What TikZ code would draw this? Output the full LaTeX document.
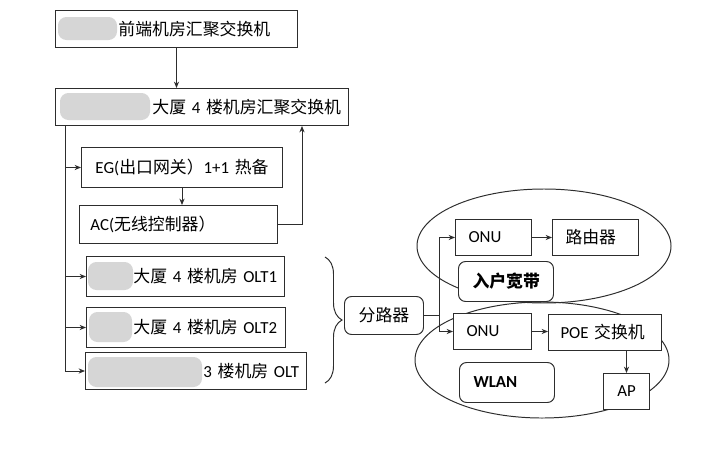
\documentclass[tikz,border=0pt]{standalone}
\usepackage{fontspec}
\setmainfont{Carlito}
\newfontfamily\cjk{Noto Sans CJK SC}
\usepackage{xcolor}
\usetikzlibrary{
  arrows.meta,
  calc,
  positioning,
  decorations.pathreplacing
}
\definecolor{linegray}{RGB}{45,45,45}
\definecolor{blurgray}{RGB}{214,214,214}
\newcommand{\zh}[1]{{\cjk #1}}

\begin{document}
\begin{tikzpicture}[
  x=0.25mm, y=-0.25mm,
  box/.style={draw=linegray, fill=white, line width=0.7pt, anchor=north west,
              inner xsep=0pt, inner ysep=0pt, align=left,
              font=\fontsize{12}{14}\selectfont},
  rbox/.style={box, rounded corners=5pt},
  arr/.style={-{Stealth[length=1.6mm, width=1.3mm]}, line width=0.7pt, linegray},
  wire/.style={line width=0.7pt, linegray},
  blur/.style={fill=blurgray, rounded corners=6pt}
]
  \useasboundingbox (0,0) rectangle (715,451);

  % groups
  \draw[wire] (544,246) ellipse [x radius=31.75mm, y radius=14.25mm];
  \draw[wire] (542,360) ellipse [x radius=31.75mm, y radius=14.5mm];

  \node[box, text width=60.5mm, minimum height=9.25mm] (front) at (55,10)
    {\hspace*{15.75mm}\zh{前端机房汇聚交换机}};
  \node[box, text width=73.25mm, minimum height=9.25mm] (bldg) at (55,88)
    {\hspace*{24.25mm}\zh{大厦} 4 \zh{楼机房汇聚交换机}};
  \node[box, text width=50.25mm, minimum height=10mm] (eg) at (81,147)
    {\hspace*{3.5mm}EG(\zh{出口网关）}1+1 \zh{热备}};
  \node[box, text width=49.5mm, minimum height=9.5mm] (ac) at (79,205)
    {\hspace*{2.75mm}AC(\zh{无线控制器）}};
  \node[box, text width=49.5mm, minimum height=10mm] (olt1) at (86,256)
    {\hspace*{11.75mm}\zh{大厦} 4 \zh{楼机房} OLT1};
  \node[box, text width=49.75mm, minimum height=10mm] (olt2) at (86,307)
    {\hspace*{11.75mm}\zh{大厦} 4 \zh{楼机房} OLT2};
  \node[box, text width=55.25mm, minimum height=9.25mm] (olt3) at (85,352)
    {\hspace*{29.5mm}3 \zh{楼机房} OLT};

  \node[rbox, text width=19.75mm, minimum height=9.5mm, align=center] (split) at (344,296) {\zh{分路器}};
  \node[box, text width=19mm, minimum height=9mm] (onu1) at (455,219) {\hspace*{3.25mm}ONU};
  \node[box, text width=21.5mm, minimum height=9mm] (router) at (552,219) {\hspace*{3.25mm}\zh{路由器}};
  \node[rbox, text width=23.75mm, minimum height=10mm] (home) at (458,261) {\hspace*{3.5mm}\zh{\bfseries 入户宽带}};
  \node[box, text width=19.5mm, minimum height=9mm] (onu2) at (453,313) {\hspace*{3.25mm}ONU};
  \node[box, text width=28.25mm, minimum height=9mm] (poe) at (548,314) {\hspace*{3mm}POE \zh{交换机}};
  \node[box, text width=11.5mm, minimum height=9mm, align=center] (ap) at (603,373) {AP};
  \node[rbox, text width=23.75mm, minimum height=10mm] (wlan) at (459,362) {\hspace*{3.5mm}\textbf{WLAN}};

  % blurred names
  \fill[blur] (58,17) rectangle (117,40);
  \fill[blur] (60,93) rectangle (150,120);
  \fill[blur] (88,262) rectangle (133,290);
  \fill[blur] (89,312) rectangle (132,342);
  \fill[blur] (88,357) rectangle (202,387);

  % links
  \draw[arr] (front.south) -- (front.south |- bldg.north);
  \coordinate (trunk) at ($(bldg.south west)+(10,0)$);
  \draw[wire] (trunk) -- (trunk |- olt3.west);
  \foreach \n in {eg, olt1, olt2, olt3}
    \draw[arr] (trunk |- \n.west) -- (\n.west);
  \draw[arr] (eg.south) -- (eg.south |- ac.north);
  \coordinate (acup) at ($(bldg.south west)+(247,0)$);
  \draw[arr] (ac.east) -| (acup);

  \coordinate (bt) at (325,257);
  \coordinate (bb) at (325,383);
  \draw[wire, decorate, decoration={brace, amplitude=4.25mm}] (bt) -- (bb);

  \coordinate (fork) at ($(split.east)+(15,0)$);
  \draw[linegray, line width=1.4pt] (split.east) -- (fork);
  \draw[arr] (fork) |- (onu1.west);
  \draw[arr] (fork) |- (onu2.west);
  \draw[arr] (onu1.east) -- (onu1.east -| router.west);
  \draw[arr] (onu2.east) -- (onu2.east -| poe.west);
  \draw[arr] (poe.south -| ap.north) -- (ap.north);
\end{tikzpicture}
\end{document}
